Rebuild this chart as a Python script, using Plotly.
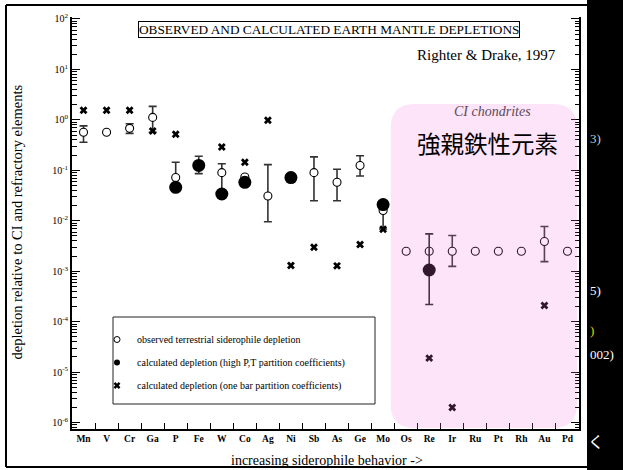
import plotly.graph_objects as go

# Elements ordered by increasing siderophile behaviour
ELEMENTS = ["Mn", "V", "Cr", "Ga", "P", "Fe", "W", "Co", "Ag", "Ni", "Sb",
            "As", "Ge", "Mo", "Os", "Re", "Ir", "Ru", "Pt", "Rh", "Au", "Pd"]

# Observed terrestrial siderophile depletion (normalised to CI and refractory elements)
OBSERVED = [0.57, 0.57, 0.68, 1.12, 0.072, 0.12, 0.09, 0.074, 0.031, None, 0.09,
            0.058, 0.125, 0.016, 0.0025, 0.0025, 0.0025, 0.0025, 0.0025, 0.0025, 0.0039, 0.0025]
OBS_HIGH = [0.76, None, 0.84, 1.85, 0.145, 0.19, 0.135, 0.08, 0.13, None, 0.185,
            0.105, 0.195, 0.023, None, None, 0.0051, None, None, None, 0.0077, None]
OBS_LOW = [0.36, None, 0.54, 0.57, 0.05, 0.086, 0.036, 0.064, 0.0096, None, 0.025,
           0.025, 0.077, 0.0069, None, None, 0.00125, None, None, None, 0.00155, None]

# Calculated depletion with high P,T partition coefficients
CALC_HPT = [None, None, None, None, 0.046, 0.125, 0.034, 0.058, None, 0.072, None,
            None, None, 0.021, None, 0.00106, None, None, None, None, None, None]
CALC_HPT_HIGH = [None] * 15 + [0.0055] + [None] * 6
CALC_HPT_LOW = [None] * 15 + [0.00022] + [None] * 6

# Calculated depletion with one bar partition coefficients
CALC_1BAR = [1.55, 1.55, 1.55, 0.6, 0.52, None, 0.29, 0.145, 0.98, 0.0013, 0.003,
             0.00128, 0.0034, 0.0068, None, 1.9e-5, 2.0e-6, None, None, None, 0.00021, None]

LEGEND_LABELS = ["observed terrestrial siderophile depletion",
                 "calculated depletion (high P,T partition coefficients)",
                 "calculated depletion (one bar partition coefficients)"]

# y-axis decades and their labels, plus the 2..9 sub-decade positions
DECADES = list(range(-6, 3))
DECADE_VALUES = [10.0 ** d for d in DECADES]
DECADE_LABELS = [f"10<sup>{d}</sup>" for d in DECADES]
MINOR_VALUES = [m * 10.0 ** d for d in range(-7, 2) for m in range(2, 10)]
Y_RANGE = [-6.126, 2.039]

ALL_TICK_VALUES = DECADE_VALUES + MINOR_VALUES
ALL_TICK_LABELS = DECADE_LABELS + [""] * len(MINOR_VALUES)

SERIF = "Liberation Serif, Times New Roman, serif"

# plot-area geometry in pixels (used to place decorations in paper units)
W, H = 623, 470
ML, MR, MT, MB = 72, 44, 17, 41
PW, PH = W - ML - MR, H - MT - MB


def px(xp):
    return (xp - ML) / PW


def py(yp):
    return (H - MB - yp) / PH


def err_parts(vals, hi, lo):
    plus, minus = [], []
    for v, h, l in zip(vals, hi, lo):
        plus.append(h - v if (v is not None and h is not None) else 0)
        minus.append(v - l if (v is not None and l is not None) else 0)
    return plus, minus


fig = go.Figure()

op, om = err_parts(OBSERVED, OBS_HIGH, OBS_LOW)
fig.add_trace(go.Scatter(
    x=ELEMENTS, y=OBSERVED, mode="markers", showlegend=False,
    marker=dict(symbol="circle", size=8, color="white", line=dict(color="black", width=1.1)),
    error_y=dict(type="data", symmetric=False, array=op, arrayminus=om,
                 color="#333333", thickness=1.6, width=4),
))

cp, cm = err_parts(CALC_HPT, CALC_HPT_HIGH, CALC_HPT_LOW)
fig.add_trace(go.Scatter(
    x=ELEMENTS, y=CALC_HPT, mode="markers", showlegend=False,
    marker=dict(symbol="circle", size=13, color="black", line=dict(width=0)),
    error_y=dict(type="data", symmetric=False, array=cp, arrayminus=cm,
                 color="#222222", thickness=1.6, width=4),
))

fig.add_trace(go.Scatter(
    x=ELEMENTS, y=CALC_1BAR, mode="markers", showlegend=False,
    marker=dict(symbol="x", size=7, color="black", line=dict(width=0)),
))

# transparent copy of the observed series that carries the long decade-tick axis
fig.add_trace(go.Scatter(x=ELEMENTS, y=OBSERVED, yaxis="y2", mode="markers",
                         marker=dict(opacity=0, size=1), showlegend=False,
                         hoverinfo="skip"))

# legend entries
legend_markers = [
    dict(symbol="circle", size=6, color="white", line=dict(color="black", width=1)),
    dict(symbol="circle", size=6, color="black", line=dict(width=0)),
    dict(symbol="x", size=6, color="black", line=dict(width=0)),
]
for i, (lab, mk) in enumerate(zip(LEGEND_LABELS, legend_markers)):
    fig.add_trace(go.Scatter(x=[None], y=[None], mode="markers", name=lab,
                             marker=mk, legendgroup=f"g{i}"))

shapes = []
# CI chondrite reference level
shapes.append(dict(type="line", xref="paper", yref="y", x0=0, x1=1, y0=0, y1=0,
                   line=dict(color="black", width=1.2, dash="dash"), layer="above"))

# legend frame
shapes.append(dict(type="rect", xref="paper", yref="paper",
                   x0=px(113), x1=px(375), y0=py(404), y1=py(317),
                   line=dict(color="#222222", width=1), layer="above"))

# highly siderophile element highlight (rounded rectangle)
L, R, T, B = px(390.7), px(577), py(104), py(428)
rx, ry = 24 / PW, 24 / PH
path = (f"M {L+rx},{T} L {R-rx},{T} Q {R},{T} {R},{T-ry} L {R},{B+ry} "
        f"Q {R},{B} {R-rx},{B} L {L+rx},{B} Q {L},{B} {L},{B+ry} "
        f"L {L},{T-ry} Q {L},{T} {L+rx},{T} Z")
shapes.append(dict(type="path", xref="paper", yref="paper", path=path,
                   fillcolor="rgba(245,120,225,0.2)", line=dict(width=0), layer="above"))

# outer frame and dark side strip
shapes.append(dict(type="line", xref="paper", yref="paper", x0=px(6), x1=px(6),
                   y0=py(467), y1=py(5), line=dict(color="black", width=2)))
shapes.append(dict(type="line", xref="paper", yref="paper", x0=px(6), x1=px(587),
                   y0=py(5), y1=py(5), line=dict(color="black", width=2)))
shapes.append(dict(type="line", xref="paper", yref="paper", x0=px(6), x1=px(587),
                   y0=py(467), y1=py(467), line=dict(color="black", width=2)))
shapes.append(dict(type="rect", xref="paper", yref="paper", x0=px(587), x1=px(640),
                   y0=py(480), y1=py(-10), fillcolor="black", line=dict(width=0)))

annotations = [
    dict(text="OBSERVED AND CALCULATED EARTH MANTLE DEPLETIONS", xref="paper", yref="paper",
         x=px(329.2), y=py(30), xanchor="center", yanchor="middle", showarrow=False,
         font=dict(family=SERIF, size=13.3, color="black"),
         bordercolor="black", borderwidth=1, borderpad=0, bgcolor="white"),
    dict(text="Righter &amp; Drake, 1997", xref="paper", yref="paper",
         x=px(558), y=py(55), xanchor="right", yanchor="middle", showarrow=False,
         font=dict(family=SERIF, size=15, color="black")),
    dict(text="<i>CI chondrites</i>", xref="paper", yref="paper",
         x=px(492), y=py(111), xanchor="center", yanchor="middle", showarrow=False,
         font=dict(family=SERIF, size=14, color="#5a4a58")),
    dict(text="強親鉄性元素", xref="paper", yref="paper",
         x=px(487.3), y=py(143), xanchor="center", yanchor="middle", showarrow=False,
         font=dict(family="Noto Sans CJK JP", size=23.5, color="black")),
    dict(text="depletion relative to CI and refractory elements", xref="paper", yref="paper",
         x=px(17), y=py(222.5), xanchor="center", yanchor="middle", showarrow=False,
         textangle=-90, font=dict(family=SERIF, size=14.5, color="black")),
    dict(text="increasing siderophile behavior ->", xref="paper", yref="paper",
         x=px(326.5), y=py(460), xanchor="center", yanchor="middle", showarrow=False,
         font=dict(family=SERIF, size=14, color="black")),
    # fragments of text on the dark strip
    dict(text="3)", xref="paper", yref="paper", x=px(588), y=py(138), xanchor="left",
         yanchor="middle", showarrow=False, font=dict(family=SERIF, size=13, color="#b8d4d4")),
    dict(text="5)", xref="paper", yref="paper", x=px(588), y=py(291), xanchor="left",
         yanchor="middle", showarrow=False, font=dict(family=SERIF, size=13, color="white")),
    dict(text=")", xref="paper", yref="paper", x=px(588), y=py(330), xanchor="left",
         yanchor="middle", showarrow=False, font=dict(family=SERIF, size=13, color="#f0d000")),
    dict(text="002)", xref="paper", yref="paper", x=px(588), y=py(354), xanchor="left",
         yanchor="middle", showarrow=False, font=dict(family=SERIF, size=13, color="white")),
    dict(text="く", xref="paper", yref="paper", x=px(586), y=py(441), xanchor="left",
         yanchor="middle", showarrow=False, font=dict(family="Noto Sans CJK JP", size=16, color="white")),
]

fig.update_layout(
    width=W, height=H,
    margin=dict(l=ML, r=MR, t=MT, b=MB, pad=0),
    paper_bgcolor="white", plot_bgcolor="white",
    shapes=shapes, annotations=annotations,
    legend=dict(x=px(97), y=py(325), xanchor="left", yanchor="top",
                bgcolor="rgba(0,0,0,0)", borderwidth=0, traceorder="grouped",
                tracegroupgap=4, font=dict(family=SERIF, size=10, color="black")),
    xaxis=dict(type="category", categoryorder="array", categoryarray=ELEMENTS,
               range=[-0.5, len(ELEMENTS) - 0.5], tickson="boundaries",
               ticks="inside", ticklen=6, tickwidth=1.3, tickcolor="black", tickangle=0,
               showline=True, linecolor="black", linewidth=2, showgrid=False,
               zeroline=False, mirror=False,
               tickfont=dict(family=SERIF, size=9.5, color="black", weight="bold")),
    yaxis=dict(type="log", range=Y_RANGE, tickmode="array",
               tickvals=ALL_TICK_VALUES, ticktext=ALL_TICK_LABELS,
               ticks="inside", ticklen=4.5, tickwidth=1.3,
               tickcolor="black", showline=True, linecolor="black", linewidth=2,
               mirror="ticks", showgrid=False, zeroline=False,
               tickfont=dict(family=SERIF, size=10, color="black")),
    yaxis2=dict(type="log", range=Y_RANGE, overlaying="y", side="left", anchor="x",
                tickmode="array", tickvals=DECADE_VALUES, showticklabels=False,
                ticks="inside", ticklen=8, tickwidth=1.3, tickcolor="black",
                showline=False, mirror="ticks", showgrid=False, zeroline=False),
)

fig.write_html("out.html")
